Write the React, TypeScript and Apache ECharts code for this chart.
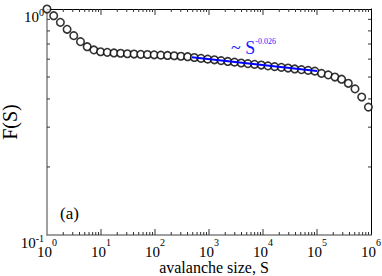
import React, { useEffect, useRef } from "react";
import * as echarts from "echarts";

// avalanche sizes S (log-spaced bins)
const sizes = [
  1, 1.33, 1.77, 2.355, 3.13, 4.17, 5.55, 7.38, 9.82, 13.06, 17.38, 23.1, 30.8, 40.9, 54.5, 72.4,
  96.4, 128.2, 170.6, 227, 302, 402, 535, 711, 946, 1259, 1675, 2228, 2965, 3945, 5248, 6982,
  9290, 12360, 16440, 21880, 29110, 38730, 51520, 68550, 91200, 121300, 161400, 214800, 285800,
  380200, 505800, 673000, 895400,
];
// F(S)
const fValues = [
  1.0, 0.934, 0.873, 0.813, 0.762, 0.717, 0.681, 0.659, 0.647, 0.643, 0.639, 0.637, 0.634, 0.632,
  0.63, 0.629, 0.627, 0.625, 0.623, 0.621, 0.618, 0.615, 0.61, 0.605, 0.6, 0.596, 0.591, 0.586,
  0.582, 0.577, 0.573, 0.569, 0.565, 0.56, 0.556, 0.552, 0.548, 0.543, 0.539, 0.535, 0.531, 0.519,
  0.511, 0.5, 0.489, 0.469, 0.443, 0.408, 0.368,
];
// power-law fit ~ S^-0.026
const fitS = [480, 100000];
const fitF = [0.611, 0.532];
const fitExponent = "-0.026";
const panelLabel = "(a)";
const xTitle = "avalanche size, S";
const yTitle = "F(S)";
const xDecades = [0, 1, 2, 3, 4, 5];
const minorFactors = [2, 3, 4, 5, 6, 7, 8, 9];

const FONT = "Liberation Serif";

export default function App() {
  const ref = useRef<HTMLDivElement>(null);
  useEffect(() => {
    if (!ref.current) return;
    const chart = echarts.init(ref.current, undefined, { renderer: "svg" });

    const points = sizes.map((s, i) => [s, fValues[i]]);
    const fit = fitS.map((s, i) => [s, fitF[i]]);

    // tick data: [x, y, length, kind(0=x,1=y)]
    const ticks: number[][] = [];
    xDecades.forEach((d) => {
      minorFactors.forEach((k) => ticks.push([k * Math.pow(10, d), 0.5, 3, 0]));
      if (d > 0) ticks.push([Math.pow(10, d), 0.5, 6, 0]);
    });
    minorFactors.forEach((k) => ticks.push([10, k / 10, 3, 1]));

    const expLabel = (v: number) => {
      const e = Math.round(Math.log10(v));
      return `{b|10}{s|${e}}`;
    };

    const xRich = {
      b: { fontSize: 15, fontFamily: FONT, color: "#000", lineHeight: 22, verticalAlign: "bottom" },
      s: { fontSize: 10, fontFamily: FONT, color: "#000", lineHeight: 12, verticalAlign: "top" },
    };
    const yRich = {
      b: { fontSize: 15, fontFamily: FONT, color: "#000", lineHeight: 22, padding: [11, 0, 0, 0], verticalAlign: "top" },
      s: { fontSize: 10, fontFamily: FONT, color: "#000", lineHeight: 12, padding: [9, 0, 0, 0], verticalAlign: "top" },
    };

    const option: any = {
      animation: false,
      backgroundColor: "#fff",
      textStyle: { fontFamily: FONT },
      grid: { left: 47, right: 11, top: 9, bottom: 41, containLabel: false, outerBoundsMode: "none" },
      xAxis: [
        {
          type: "log",
          logBase: 10,
          min: 1,
          max: 1e6,
          position: "bottom",
          name: xTitle,
          nameLocation: "middle",
          nameGap: 24,
          nameMoveOverlap: false,
          nameTextStyle: { fontFamily: FONT, fontSize: 16, color: "#000", padding: [0, 0, 0, 10] },
          axisLine: { lineStyle: { color: "#808080", width: 1.5 } },
          axisTick: { show: false },
          axisLabel: { formatter: expLabel, rich: xRich, margin: 2, fontFamily: FONT },
          splitLine: { show: false },
        },
        {
          type: "log",
          logBase: 10,
          min: 1,
          max: 1e6,
          position: "top",
          axisLine: { lineStyle: { color: "#000", width: 1 } },
          axisTick: { show: false },
          axisLabel: { show: false },
          splitLine: { show: false },
        },
      ],
      yAxis: [
        {
          type: "log",
          logBase: 10,
          min: 0.1,
          max: 1,
          position: "left",
          name: yTitle,
          nameLocation: "middle",
          nameGap: 27,
          nameMoveOverlap: false,
          nameTextStyle: { fontFamily: FONT, fontSize: 20, color: "#000" },
          axisLine: { lineStyle: { color: "#808080", width: 1.5 } },
          axisTick: { show: false },
          axisLabel: { formatter: expLabel, rich: yRich, margin: 3, fontFamily: FONT },
          splitLine: { show: false },
        },
        {
          type: "log",
          logBase: 10,
          min: 0.1,
          max: 1,
          position: "right",
          axisLine: { lineStyle: { color: "#000", width: 1 } },
          axisTick: { show: false },
          axisLabel: { show: false },
          splitLine: { show: false },
        },
      ],
      series: [
        {
          type: "custom",
          xAxisIndex: 0,
          yAxisIndex: 0,
          silent: true,
          z: 1,
          data: ticks,
          renderItem: (params: any, api: any) => {
            const cs = params.coordSys;
            const kind = api.value(3);
            const len = api.value(2);
            const pt = api.coord([api.value(0), api.value(1)]);
            const style = { stroke: "#333", lineWidth: 1 };
            if (kind === 0) {
              const px = pt[0];
              const yb = cs.y + cs.height;
              return {
                type: "group",
                children: [
                  { type: "line", shape: { x1: px, y1: yb, x2: px, y2: yb - len }, style },
                  { type: "line", shape: { x1: px, y1: cs.y, x2: px, y2: cs.y + len }, style },
                ],
              };
            }
            const py = pt[1];
            const xr = cs.x + cs.width;
            return {
              type: "group",
              children: [
                { type: "line", shape: { x1: cs.x, y1: py, x2: cs.x + len, y2: py }, style },
                { type: "line", shape: { x1: xr, y1: py, x2: xr - len, y2: py }, style },
              ],
            };
          },
        },
        {
          type: "scatter",
          data: points,
          symbol: "circle",
          symbolSize: 7.5,
          itemStyle: { color: "#fff", borderColor: "#000", borderWidth: 1.6 },
          z: 3,
          silent: true,
        },
        {
          type: "line",
          data: fit,
          showSymbol: false,
          symbol: "none",
          lineStyle: { color: "#0000ff", width: 2 },
          z: 4,
          silent: true,
        },
      ],
      graphic: [
        {
          type: "text",
          x: 231,
          y: 47,
          z: 10,
          style: {
            text: `{t|~ S}{s|${fitExponent}}`,
            verticalAlign: "middle",
            fontFamily: FONT,
            rich: {
              t: { fontSize: 18, fontFamily: FONT, fill: "#1a1aff", lineHeight: 20, verticalAlign: "bottom" },
              s: { fontSize: 8, fontFamily: FONT, fill: "#1a1aff", lineHeight: 10, verticalAlign: "top" },
            },
          },
        },
        {
          type: "text",
          x: 60,
          y: 213,
          z: 10,
          style: { text: panelLabel, fontSize: 17, fontFamily: FONT, fill: "#000", verticalAlign: "middle" },
        },
      ],
    };
    chart.setOption(option);
    return () => chart.dispose();
  }, []);
  return <div ref={ref} style={{ position: "absolute", left: 0, top: 0, width: 382, height: 276 }} />;
}
